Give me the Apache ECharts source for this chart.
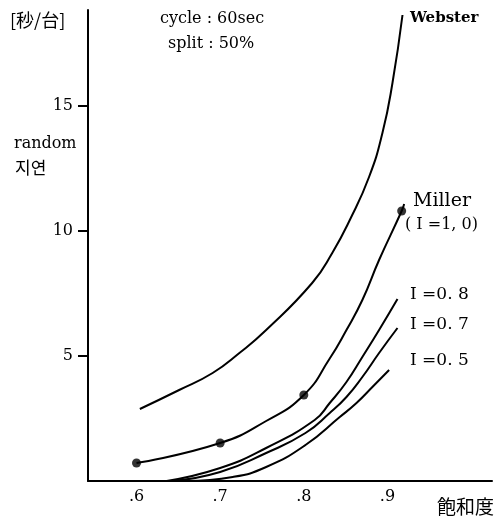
<!DOCTYPE html>
<html>
<head>
<meta charset="utf-8">
<title>random 지연</title>
<script src="https://cdn.jsdelivr.net/npm/echarts@6/dist/echarts.min.js"></script>
<style>
  html, body { margin: 0; padding: 0; background: #fff; }
  #chart { width: 503px; height: 521px; }
</style>
</head>
<body>
<div id="chart"></div>
<script>
// 포화도 (x) 와 지연 (y) 값, 그림에서 읽음
const webster = [[0.604, 2.88], [0.651, 3.64], [0.691, 4.32], [0.723, 5.12], [0.755, 6.04], [0.81, 7.92],
                 [0.834, 9.12], [0.855, 10.44], [0.878, 12.16], [0.894, 13.92], [0.906, 15.92], [0.918, 18.64]];
const miller = [[0.6, 0.72], [0.7, 1.52], [0.755, 2.4], [0.8, 3.44], [0.831, 4.9], [0.851, 6.04],
                [0.87, 7.24], [0.89, 8.84], [0.917, 10.8], [0.92, 11.08]];
const millerDots = [[0.6, 0.72], [0.7, 1.52], [0.8, 3.44], [0.917, 10.8]];
const i08 = [[0.636, 0], [0.7, 0.52], [0.755, 1.32], [0.813, 2.44], [0.831, 3.12], [0.851, 3.96],
             [0.87, 4.96], [0.89, 6.04], [0.912, 7.28]];
const i07 = [[0.643, 0], [0.7, 0.36], [0.755, 1.12], [0.802, 1.92], [0.831, 2.72], [0.851, 3.36],
             [0.87, 4.16], [0.89, 5.12], [0.912, 6.12]];
const i05 = [[0.66, 0], [0.715, 0.16], [0.755, 0.56], [0.802, 1.44], [0.843, 2.56], [0.863, 3.12],
             [0.882, 3.76], [0.902, 4.44]];
const xTicks = [0.6, 0.7, 0.8, 0.9];
const yTicks = [5, 10, 15];

const serif = '"DejaVu Serif", "Liberation Serif", serif';
const cjk = '"Noto Sans CJK KR", "Noto Sans CJK SC", sans-serif';

const chart = echarts.init(document.getElementById('chart'));

function curve(data) {
  return {
    type: 'line', data: data, smooth: 0.5, symbol: 'none', silent: true,
    lineStyle: { color: '#000', width: 2 }
  };
}

const option = {
  animation: false,
  grid: { left: 88, top: 10, right: 11, bottom: 40 },
  xAxis: {
    type: 'value', min: 0.542, max: 1.025,
    splitLine: { show: false },
    axisLine: { lineStyle: { color: '#000', width: 2 } },
    axisTick: { show: false },
    axisLabel: {
      customValues: xTicks, color: '#000', fontFamily: serif, fontSize: 16, margin: 8,
      formatter: v => '.' + Math.round(v * 10)
    }
  },
  yAxis: {
    type: 'value', min: 0, max: 18.84,
    splitLine: { show: false },
    axisLine: { show: true, lineStyle: { color: '#000', width: 2 } },
    axisTick: { show: true, customValues: yTicks, length: 10, lineStyle: { color: '#000', width: 2 } },
    axisLabel: { customValues: yTicks, color: '#000', fontFamily: serif, fontSize: 16, margin: 15 }
  },
  series: [
    curve(webster), curve(miller), curve(i08), curve(i07), curve(i05),
    { type: 'scatter', data: millerDots, symbol: 'circle', symbolSize: 9, itemStyle: { color: '#000' }, silent: true }
  ],
  graphic: [
    { type: 'text', left: 10, top: 11, style: { text: '[秒/台]', font: '18px ' + cjk, fill: '#000' } },
    { type: 'text', left: 160, top: 11, style: { text: 'cycle : 60sec', font: '16px ' + serif, fill: '#000' } },
    { type: 'text', left: 168, top: 36, style: { text: 'split : 50%', font: '16px ' + serif, fill: '#000' } },
    { type: 'text', left: 410, top: 11, style: { text: 'Webster', font: 'bold 15px ' + serif, fill: '#000' } },
    { type: 'text', left: 14, top: 136, style: { text: 'random', font: '16px ' + serif, fill: '#000' } },
    { type: 'text', left: 15, top: 159, style: { text: '지연', font: '17px ' + cjk, fill: '#000' } },
    { type: 'text', left: 413, top: 192, style: { text: 'Miller', font: '19px ' + serif, fill: '#000' } },
    { type: 'text', left: 405, top: 217, style: { text: '( I =1, 0)', font: '16px ' + serif, fill: '#000' } },
    { type: 'text', left: 410, top: 286, style: { text: 'I =0. 8', font: '17px ' + serif, fill: '#000' } },
    { type: 'text', left: 410, top: 316, style: { text: 'I =0. 7', font: '17px ' + serif, fill: '#000' } },
    { type: 'text', left: 410, top: 352, style: { text: 'I =0. 5', font: '17px ' + serif, fill: '#000' } },
    { type: 'text', left: 437, top: 497, style: { text: '飽和度', font: '19px ' + cjk, fill: '#000' } }
  ]
};

chart.setOption(option);
</script>
</body>
</html>
